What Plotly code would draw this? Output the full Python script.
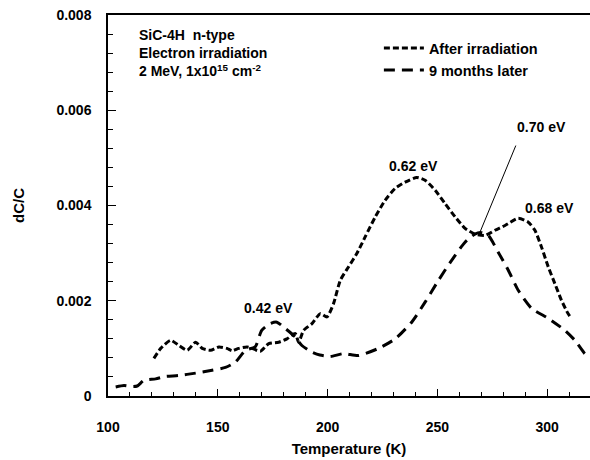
import plotly.graph_objects as go

# Data
after_T = [120.9, 124.0, 128.5, 132.3, 136.1, 139.9, 142.9, 146.7, 150.5, 154.2, 156.5,
           159.5, 163.3, 165.6, 169.4, 173.2, 177.7, 181.5, 185.3, 186.8, 189.1, 192.9,
           196.7, 199.7, 202.7, 205.8, 209.5, 213.3, 217.1, 221.7, 226.2, 230.8, 235.3,
           240.6, 244.4, 249.0, 253.5, 258.1, 262.6, 267.1, 271.7, 276.2, 280.8, 286.8,
           291.4, 294.4, 297.4, 300.5, 303.5, 306.5, 309.5, 311.0]
after_v = [0.00079, 0.00100, 0.00117, 0.00106, 0.00096, 0.00113, 0.00100, 0.00096, 0.00103,
           0.00100, 0.00095, 0.00100, 0.00103, 0.00100, 0.00094, 0.00110, 0.00113, 0.00120,
           0.00131, 0.00113, 0.00138, 0.00152, 0.00173, 0.00166, 0.00194, 0.00243, 0.00271,
           0.00299, 0.00334, 0.00376, 0.00411, 0.00436, 0.00449, 0.00459, 0.00453, 0.00432,
           0.00404, 0.00376, 0.00352, 0.00340, 0.00337, 0.00348, 0.00358, 0.00373, 0.00365,
           0.00348, 0.00313, 0.00271, 0.00236, 0.00201, 0.00173, 0.00163]

nine_T = [103.5, 107.3, 110.5, 113.3, 116.4, 121.7, 126.0, 132.0, 139.9, 147.4, 153.5,
          158.0, 162.6, 167.0, 170.0, 173.9, 176.9, 180.7, 185.3, 188.3, 192.9, 196.5,
          201.2, 207.3, 214.0, 223.2, 230.8, 238.3, 244.4, 250.5, 256.5, 262.6, 267.1,
          270.0, 273.2, 277.7, 282.3, 286.8, 292.9, 300.5, 308.0, 312.6, 317.1, 319.5]
nine_v = [0.00019, 0.00022, 0.00020, 0.00021, 0.00033, 0.00036, 0.00041, 0.00043, 0.00048,
          0.00054, 0.00060, 0.00071, 0.00096, 0.00103, 0.00138, 0.00152, 0.00155, 0.00142,
          0.00124, 0.00106, 0.00092, 0.00086, 0.00083, 0.00089, 0.00085, 0.00100, 0.00120,
          0.00155, 0.00197, 0.00243, 0.00285, 0.00323, 0.00340, 0.00343, 0.00337, 0.00302,
          0.00264, 0.00222, 0.00184, 0.00163, 0.00138, 0.00117, 0.00089, 0.00080]

series_names = ["After irradiation", "9 months later"]

peak_labels = ["0.42 eV", "0.62 eV", "0.68 eV", "0.70 eV"]
peak_label_T = [173.2, 239.1, 301.2, 297.4]
peak_label_v = [0.00184, 0.00484, 0.00394, 0.00565]
leader_from = (286.0, 0.00529)
leader_to = (269.4, 0.00344)

x_ticks = [100, 150, 200, 250, 300]
y_ticks = [0, 0.002, 0.004, 0.006, 0.008]
y_tick_text = ["0", "0.002", "0.004", "0.006", "0.008"]

FONT = "Liberation Sans, Arial, sans-serif"

fig = go.Figure()
fig.add_trace(go.Scatter(x=after_T, y=after_v, mode="lines", name=series_names[0],
                         line=dict(color="black", width=3, dash="6px,3px", shape="spline", smoothing=0.6)))
fig.add_trace(go.Scatter(x=nine_T, y=nine_v, mode="lines", name=series_names[1],
                         line=dict(color="black", width=3, dash="11px,7px", shape="spline", smoothing=0.6)))

annotations = []
for t, x, y in zip(peak_labels, peak_label_T, peak_label_v):
    annotations.append(dict(x=x, y=y, xref="x", yref="y", text=t, showarrow=False,
                            font=dict(family=FONT, size=14, color="black", weight="bold")))
annotations.append(dict(x=leader_to[0], y=leader_to[1], ax=leader_from[0], ay=leader_from[1],
                        xref="x", yref="y", axref="x", ayref="y", text="", showarrow=True,
                        arrowhead=0, arrowwidth=1, arrowcolor="black", standoff=0, startstandoff=0))
annotations.append(dict(x=0.06, y=0.975, xref="paper", yref="paper", xanchor="left", yanchor="top",
                        align="left", showarrow=False,
                        text="SiC-4H  n-type<br>Electron irradiation<br>2 MeV, 1x10<sup>15</sup> cm<sup>-2</sup>",
                        font=dict(family=FONT, size=14, color="black", weight="bold")))

fig.update_layout(
    width=590, height=460,
    margin=dict(l=108, r=0, t=15, b=64),
    paper_bgcolor="white", plot_bgcolor="white",
    font=dict(family=FONT, color="black", size=14, weight="bold"),
    showlegend=True,
    legend=dict(x=0.562, y=0.955, xanchor="left", yanchor="top", bgcolor="rgba(0,0,0,0)",
                font=dict(family=FONT, size=14.5, color="black", weight="bold"),
                tracegroupgap=0, itemwidth=40),
    annotations=annotations,
)
fig.update_xaxes(range=[100, 319.5], tickvals=x_ticks, ticks="inside", ticklen=7, tickwidth=1,
                 tickcolor="black", showline=True, linecolor="black", linewidth=1.5, mirror=True,
                 showgrid=False, zeroline=False, ticklabelstandoff=17,
                 tickfont=dict(family=FONT, size=14, color="black", weight="bold"),
                 minor=dict(dtick=10, ticks="inside", ticklen=4, tickcolor="black", showgrid=False),
                 title=dict(text="Temperature (K)", standoff=10,
                            font=dict(family=FONT, size=15, color="black", weight="bold")))
fig.update_yaxes(range=[0, 0.008], tickvals=y_ticks, ticktext=y_tick_text, ticks="inside",
                 ticklen=8, tickwidth=1, tickcolor="black", showline=True, linecolor="black",
                 linewidth=1.5, mirror=False, showgrid=False, zeroline=False, ticklabelstandoff=12,
                 tickfont=dict(family=FONT, size=14, color="black", weight="bold"),
                 minor=dict(dtick=0.0004, ticks="inside", ticklen=5, tickcolor="black", showgrid=False),
                 title=dict(text="dC/C", standoff=28,
                            font=dict(family=FONT, size=15, color="black", weight="bold")))

fig.write_html("out.html", config={"displayModeBar": False},
               post_script="document.body.style.margin='0';")
